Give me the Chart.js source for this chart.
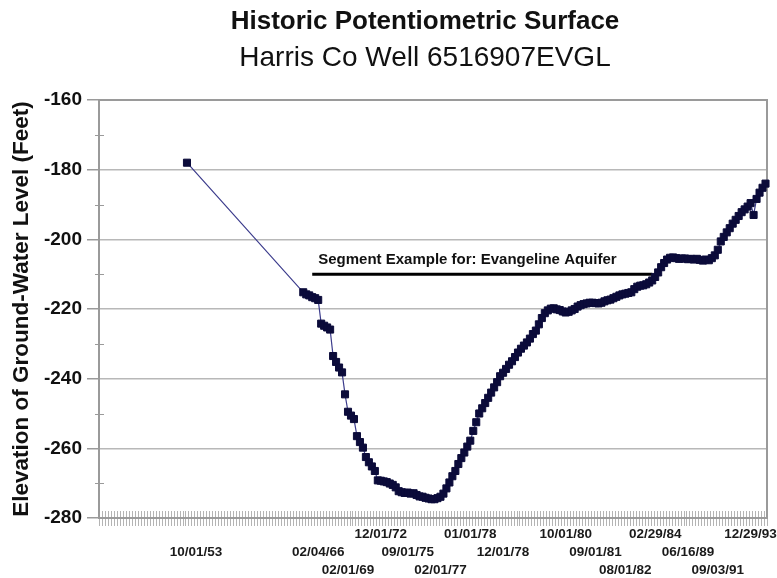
<!DOCTYPE html>
<html>
<head>
<meta charset="utf-8">
<script src="https://cdn.jsdelivr.net/npm/chart.js@4.4.1/dist/chart.umd.min.js"></script>
<style>
  html, body { margin: 0; padding: 0; background: #fff; }
  canvas { display: block; }
</style>
</head>
<body>
<canvas id="chart" width="777" height="578"></canvas>
<script>
// Measurement slots along the category axis
const SLOTS = 224;

// Single early reading, then the continuous record
const firstSlot = 29;
const firstLevel = -178;
const seriesSlot = 68;
const levels = [
  -215.2, -215.8, -216.1, -216.6, -216.9, -217.4, -224.2, -224.8, -225.3, -225.9,
  -233.5, -235.2, -236.8, -238.2, -244.5, -249.5, -250.6, -251.6, -256.5, -258.2,
  -259.8, -262.5, -264.0, -265.2, -266.5, -269.2, -269.3, -269.5, -269.7, -270.1,
  -270.5, -271.2, -272.3, -272.6, -272.8, -272.7, -273.0, -272.9, -273.4, -273.8,
  -273.9, -274.2, -274.4, -274.6, -274.6, -274.3, -273.9, -273.0, -271.5, -269.8,
  -268.0, -266.5, -264.5, -262.8, -261.2, -259.5, -257.8, -255.0, -252.5, -250.0,
  -248.5, -247.0, -245.5, -244.0, -242.5, -241.0, -239.3, -238.3, -237.2, -236.0,
  -235.0, -233.8, -232.5, -231.4, -230.5, -229.6, -228.5, -227.2, -226.2, -224.4,
  -222.6, -221.2, -220.4, -219.9, -219.8, -220.1, -220.3, -220.7, -221.0, -220.8,
  -220.4, -220.0, -219.3, -218.9, -218.6, -218.4, -218.2, -218.2, -218.3, -218.4,
  -218.2, -217.8, -217.5, -217.3, -216.9, -216.5, -216.1, -215.8, -215.6, -215.4,
  -215.2, -214.3, -213.6, -213.3, -213.2, -212.9, -212.4, -211.8, -210.8, -209.5,
  -208.0, -206.8, -205.8, -205.3, -205.2, -205.4, -205.6, -205.5, -205.5, -205.7,
  -205.6, -205.8, -205.6, -205.9, -206.1, -205.8, -206.0, -205.4, -204.6, -203.0,
  -200.6, -199.3, -198.0, -196.8, -195.5, -194.4, -193.3, -192.2, -191.4, -190.6,
  -189.6, -193.0, -188.4, -186.6, -185.2, -184.0
];

// Dated tick labels and the slot each one sits on
const dateLabels = ['10/01/53', '02/04/66', '02/01/69', '12/01/72', '09/01/75', '02/01/77', '01/01/78',
  '12/01/78', '10/01/80', '09/01/81', '08/01/82', '02/29/84', '06/16/89', '09/03/91', '12/29/93'];
const dateSlots = [32, 73, 83, 94, 103, 114, 124, 135, 156, 166, 176, 186, 197, 207, 218];

// Aquifer segment marker
const segmentLevel = -210;
const segmentSlots = [71, 185];
const segmentText = 'Segment Example for: Evangeline Aquifer';

const titleText = 'Historic Potentiometric Surface';
const subtitleText = 'Harris Co Well 6516907EVGL';

// Staggered label rows (1 = nearest the axis)
const labelRows = [2, 2, 3, 1, 2, 3, 1, 2, 1, 2, 3, 1, 2, 3, 1];

const FONT = "'Liberation Sans', Arial, Helvetica, sans-serif";

const categories = new Array(SLOTS).fill('');
dateLabels.forEach((d, k) => {
  categories[dateSlots[k]] = new Array(labelRows[k] - 1).fill('').concat([d]);
});

const wellData = new Array(SLOTS).fill(null);
wellData[firstSlot] = firstLevel;
levels.forEach((v, k) => { wellData[seriesSlot + k] = v; });

const segmentData = new Array(SLOTS).fill(null);
segmentSlots.forEach(s => { segmentData[s] = segmentLevel; });

const frame = {
  id: 'frame',
  beforeDatasetsDraw(chart) {
    const { ctx, chartArea: a, scales: { x, y } } = chart;
    const half = (x.getPixelForValue(1) - x.getPixelForValue(0)) / 2;
    ctx.save();
    // category tick marks crossing the x axis
    ctx.strokeStyle = '#b4b4b4';
    ctx.lineWidth = 1;
    ctx.beginPath();
    for (let i = 0; i <= SLOTS; i++) {
      const px = Math.round(x.getPixelForValue(i) - half) + 0.5;
      ctx.moveTo(px, a.bottom - 7);
      ctx.lineTo(px, a.bottom + 8);
    }
    ctx.stroke();
    // minor ticks on the value axis
    ctx.strokeStyle = '#9a9a9a';
    ctx.beginPath();
    for (let v = y.min + 10; v < y.max; v += 20) {
      const py = Math.round(y.getPixelForValue(v)) + 0.5;
      ctx.moveTo(a.left - 4, py);
      ctx.lineTo(a.left + 5, py);
    }
    ctx.stroke();
    // plot frame
    ctx.strokeStyle = '#9a9a9a';
    ctx.lineWidth = 2;
    ctx.strokeRect(a.left, a.top, a.right - a.left, a.bottom - a.top);
    ctx.restore();
  },
  afterDatasetsDraw(chart) {
    const { ctx, scales: { x, y } } = chart;
    ctx.save();
    ctx.font = 'bold 15px ' + FONT;
    ctx.fillStyle = '#111';
    ctx.textAlign = 'left';
    ctx.textBaseline = 'alphabetic';
    ctx.fillText(segmentText, x.getPixelForValue(segmentSlots[0]) + 6, y.getPixelForValue(segmentLevel) - 10);
    ctx.restore();
  }
};

// Title block, centred slightly left of the plot centre
const headings = {
  id: 'headings',
  afterDraw(chart) {
    const { ctx, chartArea: a } = chart;
    const cx = (a.left + a.right) / 2 - 8;
    ctx.save();
    ctx.fillStyle = '#111';
    ctx.textAlign = 'center';
    ctx.textBaseline = 'middle';
    ctx.font = 'bold 26px ' + FONT;
    ctx.fillText(titleText, cx, 22);
    ctx.font = '28px ' + FONT;
    ctx.fillText(subtitleText, cx, 58);
    ctx.restore();
  }
};

new Chart(document.getElementById('chart'), {
  type: 'line',
  data: {
    labels: categories,
    datasets: [
      {
        data: wellData,
        spanGaps: true,
        borderColor: '#3c3c8c',
        borderWidth: 1.2,
        pointStyle: 'rect',
        pointRadius: 5,
        pointBackgroundColor: '#0b0b3a',
        pointBorderColor: '#0b0b3a',
        pointBorderWidth: 1,
        tension: 0
      },
      {
        data: segmentData,
        spanGaps: true,
        borderColor: '#000',
        borderWidth: 3,
        pointRadius: 0
      }
    ]
  },
  options: {
    responsive: false,
    animation: false,
    events: [],
    layout: { padding: { left: 0, right: 10, top: 100, bottom: 0 } },
    plugins: {
      legend: { display: false },
      tooltip: { enabled: false }
    },
    scales: {
      x: {
        type: 'category',
        offset: true,
        grid: { display: false, drawTicks: false },
        border: { display: false },
        ticks: {
          autoSkip: false,
          maxRotation: 0,
          minRotation: 0,
          padding: 7,
          color: '#1a1a1a',
          font: { family: FONT, size: 13.5, weight: 'bold', lineHeight: '18px' }
        },
        afterFit(s) { s.height = 60; }
      },
      y: {
        min: -280,
        max: -160,
        ticks: {
          stepSize: 20,
          padding: 5,
          color: '#111',
          font: { family: FONT, size: 19, weight: 'bold' }
        },
        grid: { color: '#b8b8b8', lineWidth: 1.5, drawTicks: true, tickLength: 12, tickColor: '#9a9a9a', tickWidth: 1.5 },
        border: { display: false },
        title: {
          display: true,
          text: 'Elevation of Ground-Water Level (Feet)',
          color: '#111',
          font: { family: FONT, size: 22.5, weight: 'bold', lineHeight: 1.2 },
          padding: { top: 8, bottom: 0 }
        },
        afterFit(s) { s.width = 99; }
      }
    }
  },
  plugins: [frame, headings]
});
</script>
</body>
</html>
